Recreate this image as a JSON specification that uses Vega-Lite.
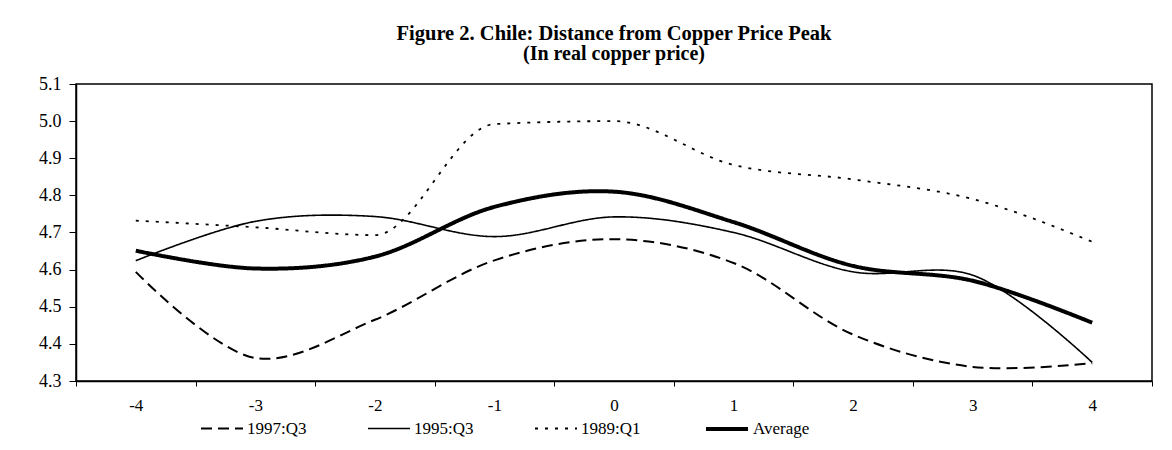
{
  "$schema": "https://vega.github.io/schema/vega-lite/v6.json",
  "autosize": {"type": "none"},
  "width": 1076,
  "height": 297,
  "padding": {"left": 76, "top": 84, "right": 20, "bottom": 69},
  "background": "white",
  "title": {
    "text": "Figure 2. Chile: Distance from Copper Price Peak",
    "subtitle": "(In real copper price)",
    "anchor": "middle",
    "frame": "group",
    "font": "Liberation Serif",
    "fontSize": 20.5,
    "fontWeight": "bold",
    "color": "black",
    "subtitleFont": "Liberation Serif",
    "subtitleFontSize": 20,
    "subtitleFontWeight": "bold",
    "subtitleColor": "black",
    "subtitlePadding": 0,
    "offset": 11
  },
  "data": {
    "values": [
      {"series": "1997:Q3", "q": -4, "v": 4.594},
      {"series": "1997:Q3", "q": -3, "v": 4.362},
      {"series": "1997:Q3", "q": -2, "v": 4.465},
      {"series": "1997:Q3", "q": -1, "v": 4.625},
      {"series": "1997:Q3", "q": 0, "v": 4.682},
      {"series": "1997:Q3", "q": 1, "v": 4.618},
      {"series": "1997:Q3", "q": 2, "v": 4.425},
      {"series": "1997:Q3", "q": 3, "v": 4.338},
      {"series": "1997:Q3", "q": 4, "v": 4.348},
      {"series": "1995:Q3", "q": -4, "v": 4.624},
      {"series": "1995:Q3", "q": -3, "v": 4.73},
      {"series": "1995:Q3", "q": -2, "v": 4.743},
      {"series": "1995:Q3", "q": -1, "v": 4.689},
      {"series": "1995:Q3", "q": 0, "v": 4.742},
      {"series": "1995:Q3", "q": 1, "v": 4.7},
      {"series": "1995:Q3", "q": 2, "v": 4.594},
      {"series": "1995:Q3", "q": 3, "v": 4.585},
      {"series": "1995:Q3", "q": 4, "v": 4.35},
      {"series": "1989:Q1", "q": -4, "v": 4.732},
      {"series": "1989:Q1", "q": -3, "v": 4.714},
      {"series": "1989:Q1", "q": -2, "v": 4.693},
      {"series": "1989:Q1", "q": -1, "v": 4.992},
      {"series": "1989:Q1", "q": 0, "v": 5.0},
      {"series": "1989:Q1", "q": 1, "v": 4.882},
      {"series": "1989:Q1", "q": 2, "v": 4.843},
      {"series": "1989:Q1", "q": 3, "v": 4.79},
      {"series": "1989:Q1", "q": 4, "v": 4.675},
      {"series": "Average", "q": -4, "v": 4.651},
      {"series": "Average", "q": -3, "v": 4.603},
      {"series": "Average", "q": -2, "v": 4.635},
      {"series": "Average", "q": -1, "v": 4.769},
      {"series": "Average", "q": 0, "v": 4.81},
      {"series": "Average", "q": 1, "v": 4.728},
      {"series": "Average", "q": 2, "v": 4.61},
      {"series": "Average", "q": 3, "v": 4.57},
      {"series": "Average", "q": 4, "v": 4.457}
    ]
  },
  "encoding": {
    "x": {
      "field": "q",
      "type": "ordinal",
      "sort": "ascending",
      "scale": {"type": "band", "paddingInner": 0, "paddingOuter": 0},
      "axis": {
        "title": null,
        "labelAngle": 0,
        "tickBand": "extent",
        "tickSize": 5,
        "tickColor": "black",
        "domainColor": "black",
        "domainWidth": 1.5,
        "labelFont": "Liberation Serif",
        "labelFontSize": 17,
        "labelColor": "black",
        "labelPadding": 11
      }
    },
    "y": {
      "field": "v",
      "type": "quantitative",
      "scale": {"domain": [4.3, 5.1], "zero": false, "nice": false},
      "axis": {
        "title": null,
        "values": [4.3, 4.4, 4.5, 4.6, 4.7, 4.8, 4.9, 5.0, 5.1],
        "format": ".1f",
        "grid": false,
        "tickSize": 7,
        "tickColor": "black",
        "domainColor": "black",
        "domainWidth": 1.5,
        "labelFont": "Liberation Serif",
        "labelFontSize": 18,
        "labelColor": "black",
        "labelPadding": 8
      }
    },
    "strokeDash": {
      "field": "series",
      "type": "nominal",
      "scale": {
        "type": "ordinal",
        "domain": ["1997:Q3", "1995:Q3", "1989:Q1", "Average"],
        "range": [[11, 6], [1, 0], [3, 7], [1, 0]]
      },
      "legend": {
        "title": null,
        "orient": "none",
        "direction": "horizontal",
        "legendX": 124,
        "legendY": 322,
        "padding": 0,
        "symbolType": "stroke",
        "symbolSize": 1764,
        "symbolStrokeColor": "black",
        "labelFont": "Liberation Serif",
        "labelFontSize": 17,
        "labelColor": "black",
        "labelOffset": 3,
        "columnPadding": 57
      }
    },
    "strokeWidth": {
      "field": "series",
      "type": "nominal",
      "scale": {
        "type": "ordinal",
        "domain": ["1997:Q3", "1995:Q3", "1989:Q1", "Average"],
        "range": [2, 1.6, 1.8, 4]
      },
      "legend": {
        "title": null,
        "orient": "none",
        "direction": "horizontal",
        "legendX": 124,
        "legendY": 322,
        "padding": 0,
        "symbolType": "stroke",
        "symbolSize": 1764,
        "symbolStrokeColor": "black",
        "labelFont": "Liberation Serif",
        "labelFontSize": 17,
        "labelColor": "black",
        "labelOffset": 3,
        "columnPadding": 57
      }
    }
  },
  "layer": [
    {
      "transform": [{"filter": "datum.series !== '1989:Q1'"}],
      "mark": {"type": "line", "interpolate": "catmull-rom", "color": "black"}
    },
    {
      "transform": [{"filter": "datum.series === '1989:Q1'"}],
      "mark": {"type": "line", "interpolate": "monotone", "color": "black"}
    }
  ],
  "config": {
    "view": {"stroke": "black", "strokeWidth": 1.5},
    "axis": {"labelFlush": false, "labelFont": "Liberation Serif"},
    "legend": {"labelFont": "Liberation Serif"}
  }
}
